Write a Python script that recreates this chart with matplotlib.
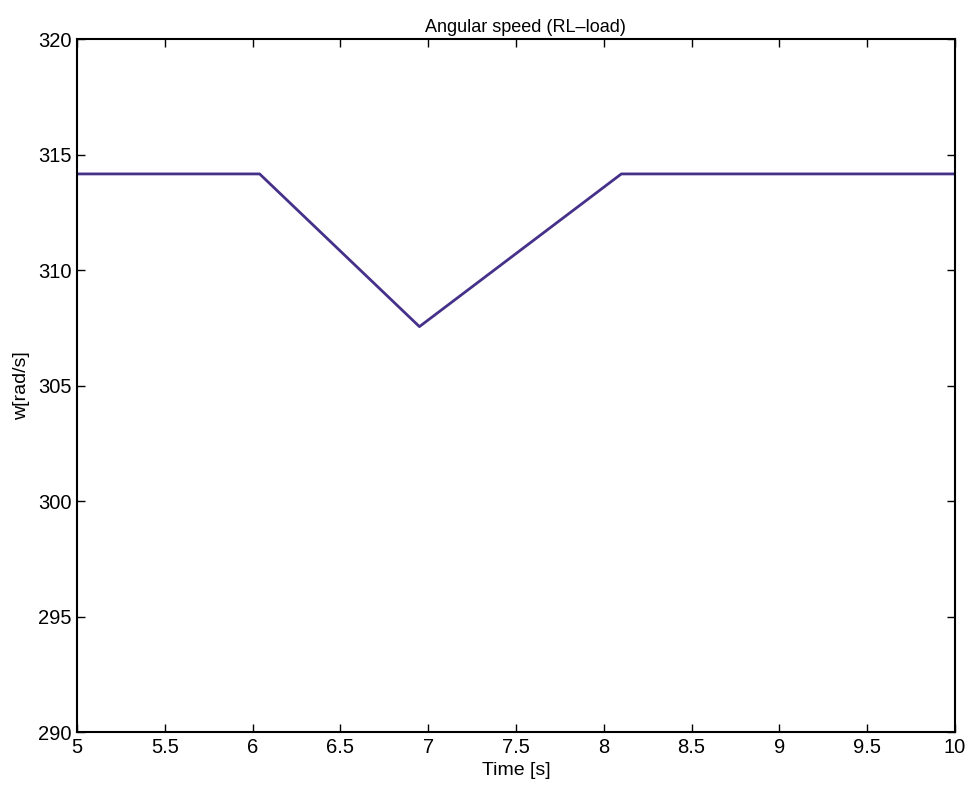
import numpy as np
import matplotlib
matplotlib.use("Agg")
import matplotlib.pyplot as plt

plt.rcParams['font.family'] = ['Liberation Sans', 'DejaVu Sans']

# speed trace breakpoints
t = [5.0, 6.04, 6.95, 8.10, 10.0]
w = [314.16, 314.16, 307.55, 314.16, 314.16]

xticks = [5, 5.5, 6, 6.5, 7, 7.5, 8, 8.5, 9, 9.5, 10]
xticklabels = ['5', '5.5', '6', '6.5', '7', '7.5', '8', '8.5', '9', '9.5', '10']
yticks = [290, 295, 300, 305, 310, 315, 320]

fig = plt.figure(figsize=(9.7, 7.9), dpi=100)
ax = fig.add_axes([0.0794, 0.0734, 0.9051, 0.8772])

ax.plot(t, w, color='#46318a', linewidth=2)

ax.set_xlim(5, 10)
ax.set_ylim(290, 320)
ax.set_xticks(xticks)
ax.set_xticklabels(xticklabels)
ax.set_yticks(yticks)
ax.tick_params(direction='in', top=True, right=True, length=6, width=1,
               labelsize=14.5)
ax.tick_params(axis='x', pad=4)
ax.tick_params(axis='y', pad=4)
for s in ax.spines.values():
    s.set_linewidth(1.5)

ax.set_title("Angular speed (RL\u2013load)", fontsize=13, pad=5, x=0.511)
ax.set_xlabel("Time [s]", fontsize=14, labelpad=4)
ax.set_ylabel("w[rad/s]", fontsize=14, labelpad=6)

fig.savefig("out.png", dpi=100)
